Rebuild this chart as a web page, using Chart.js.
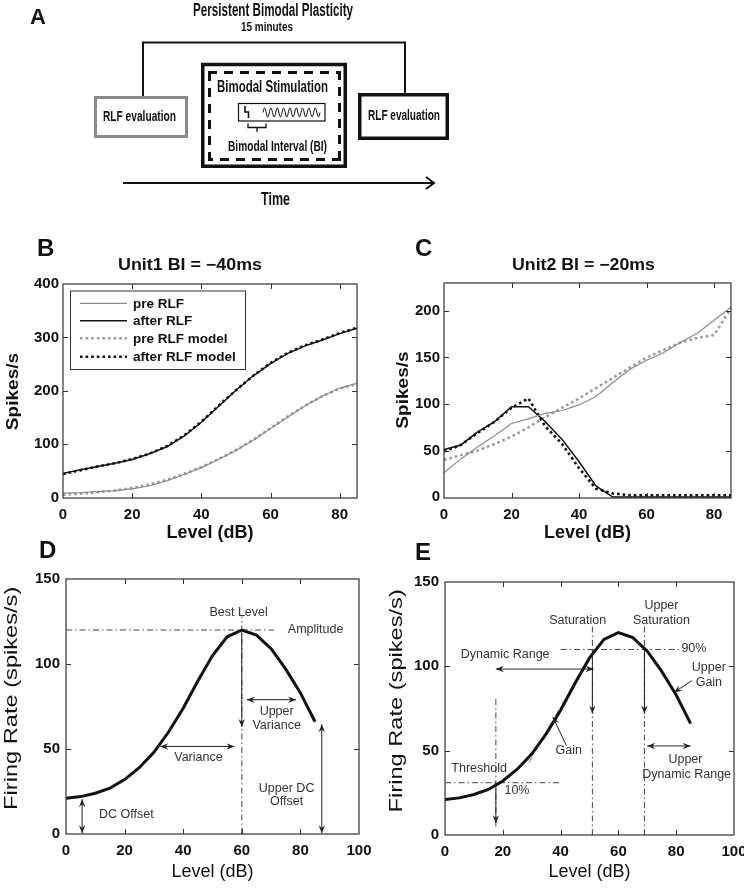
<!DOCTYPE html>
<html>
<head>
<meta charset="utf-8">
<script src="https://cdn.jsdelivr.net/npm/chart.js@4.4.1/dist/chart.umd.min.js"></script>
<style>
  body { margin: 0; background: #ffffff; }
  #page { position: relative; width: 744px; height: 888px; overflow: hidden; font-family: "Liberation Sans", Arial, sans-serif; }
  canvas { position: absolute; }
  svg { position: absolute; left: 0; top: 0; }
  svg text { font-family: "Liberation Sans", Arial, sans-serif; fill: #111; }
</style>
</head>
<body>
<div id="page">
  <canvas id="chartB" width="372" height="300" style="left:0px;top:250px"></canvas>
  <canvas id="chartC" width="372" height="300" style="left:372px;top:250px"></canvas>
  <canvas id="chartD" width="372" height="328" style="left:0px;top:560px"></canvas>
  <canvas id="chartE" width="372" height="328" style="left:372px;top:560px"></canvas>

  <svg width="744" height="888">
    <!-- panel A -->
    <text x="30" y="23.5" font-size="22" font-weight="700">A</text>
    <text x="273" y="15.5" text-anchor="middle" font-size="18" font-weight="700" textLength="160" lengthAdjust="spacingAndGlyphs">Persistent Bimodal Plasticity</text>
    <text x="267" y="31" text-anchor="middle" font-size="13" font-weight="700" textLength="52" lengthAdjust="spacingAndGlyphs">15 minutes</text>
    <polyline points="143,96 143,42.5 405,42.5 405,93" fill="none" stroke="#111" stroke-width="2"/>

    <rect x="95.5" y="97.5" width="91" height="39" fill="#fff" stroke="#8a8a8a" stroke-width="3"/>
    <text x="139.5" y="121" text-anchor="middle" font-size="15.5" font-weight="700" textLength="73" lengthAdjust="spacingAndGlyphs">RLF evaluation</text>

    <rect x="202.75" y="64.5" width="142.5" height="101.75" fill="#fff" stroke="#111" stroke-width="3.5"/>
    <g stroke="#111" stroke-width="3" stroke-dasharray="9 7" fill="none">
      <line x1="208" y1="72.5" x2="341" y2="72.5"/>
      <line x1="339.5" y1="71" x2="339.5" y2="161"/>
      <line x1="341" y1="159.5" x2="208" y2="159.5"/>
      <line x1="209.5" y1="161" x2="209.5" y2="71"/>
    </g>
    <text x="272.5" y="92" text-anchor="middle" font-size="17" font-weight="700" textLength="111" lengthAdjust="spacingAndGlyphs">Bimodal Stimulation</text>
    <rect x="238.5" y="103.5" width="86.5" height="17.5" fill="none" stroke="#111" stroke-width="1.2"/>
    <polyline points="245,106 245,112 248.5,112 248.5,118" fill="none" stroke="#111" stroke-width="1.6"/>
    <path id="wave" d="" fill="none" stroke="#111" stroke-width="1"/>
    <path d="M248,123.5 V127.5 H266 V123.5 M257,127.5 V132" fill="none" stroke="#111" stroke-width="1.3"/>
    <text x="277.5" y="150.5" text-anchor="middle" font-size="15" font-weight="700" textLength="99" lengthAdjust="spacingAndGlyphs">Bimodal Interval (BI)</text>

    <rect x="359.75" y="94.75" width="87.5" height="43.5" fill="#fff" stroke="#111" stroke-width="3.5"/>
    <text x="404" y="119.8" text-anchor="middle" font-size="15.5" font-weight="700" textLength="72" lengthAdjust="spacingAndGlyphs">RLF evaluation</text>

    <line x1="123" y1="183" x2="433" y2="183" stroke="#111" stroke-width="2"/>
    <polyline points="426,177 434,183 426,189" fill="none" stroke="#111" stroke-width="2"/>
    <text x="275.5" y="204.5" text-anchor="middle" font-size="18" font-weight="700" textLength="29" lengthAdjust="spacingAndGlyphs">Time</text>

    <!-- panel letters and titles -->
    <text x="37" y="256" font-size="24" font-weight="700">B</text>
    <text x="415" y="256" font-size="24" font-weight="700">C</text>
    <text x="39" y="558" font-size="24" font-weight="700">D</text>
    <text x="415" y="560" font-size="24" font-weight="700">E</text>
    <text x="190" y="270" text-anchor="middle" font-size="16" font-weight="700" textLength="144" lengthAdjust="spacingAndGlyphs">Unit1 BI = −40ms</text>
    <text x="583.5" y="270" text-anchor="middle" font-size="16" font-weight="700" textLength="143" lengthAdjust="spacingAndGlyphs">Unit2 BI = −20ms</text>
  </svg>
</div>

<script>
const FONT = '"Liberation Sans", Arial, sans-serif';

// sound level (dB) of every sample in B, C, D and E
const levels = [0, 5, 10, 15, 20, 25, 30, 35, 40, 45, 50, 55, 60, 65, 70, 75, 80, 85];

// B: Unit1, BI = -40ms (spikes/s)
const unit1Pre = [8, 9, 11, 13, 16, 22, 31, 43, 56, 71, 88, 107, 129, 151, 172, 190, 205, 214];
const unit1After = [45, 52, 58, 64, 71, 82, 95, 115, 141, 171, 201, 228, 251, 270, 284, 295, 307, 317];
const unit1PreModel = [5, 7, 10, 13, 18, 24, 33, 44, 57, 72, 89, 108, 130, 152, 172, 190, 204, 213];
const unit1AfterModel = [44, 51, 58, 64, 72, 82, 96, 116, 142, 172, 201, 228, 252, 271, 285, 296, 308, 318];

// C: Unit2, BI = -20ms (spikes/s)
const unit2Pre = [26, 41, 54, 66, 79, 84, 90, 93, 99, 108, 123, 137, 147, 155, 166, 176, 190, 204];
const unit2After = [51, 56, 70, 81, 97, 97, 81, 62, 38, 12, 0, 0, 0, 0, 0, 0, 0, 0];
const unit2PreModel = [40, 45, 50, 57, 65, 75, 86, 96, 106, 117, 128, 139, 150, 158, 166, 171, 174, 203];
const unit2AfterModel = [49, 56, 69, 81, 96, 106, 76, 57, 31, 9, 4, 2, 2, 2, 2, 2, 2, 2];

// D and E: example model RLF (spikes/s)
const modelRate = [21, 22, 24, 27, 32, 39, 48, 60, 74, 90, 105, 116, 120, 117, 109, 97, 83, 66];

const legendLabels = ["pre RLF", "after RLF", "pre RLF model", "after RLF model"];

const xTicksBC = [0, 20, 40, 60, 80];
const yTicksB = [0, 100, 200, 300, 400];
const yTicksC = [0, 50, 100, 150, 200];
const xTicksDE = [0, 20, 40, 60, 80, 100];
const yTicksDE = [0, 50, 100, 150];

// guide lines in data units: [x1, y1, x2, y2]
const guidesD = [[0, 120, 71, 120], [60, 0, 60, 128]];
const guidesE = [[0, 31, 40, 31], [17.6, 5, 17.6, 82], [40, 110, 81, 110], [51, 0, 51, 125], [69, 0, 69, 125]];
const gainTangentE = [29, 43, 48, 100];

// arrows in data units: [x1, y1, x2, y2, bothEnds]
const arrowsD = [
  [60, 120, 60, 63, false],
  [61.7, 79, 78.5, 79, true],
  [32.2, 51.5, 57.5, 51.5, true],
  [5.5, 0.5, 5.5, 20.5, true],
  [87.3, 0.5, 87.3, 64.5, true],
];
const labelsD = [
  [58.9, 130.2, "Best Level"],
  [85.2, 120.4, "Amplitude"],
  [71.9, 72, "Upper"],
  [71.9, 63.6, "Variance"],
  [45.2, 45.2, "Variance"],
  [20.6, 11.4, "DC Offset"],
  [75.3, 27, "Upper DC"],
  [75.3, 19.2, "Offset"],
];
const arrowsE = [
  [17.6, 31, 17.6, 7, false],
  [51, 110, 51, 72, false],
  [69, 110, 69, 72, false],
  [17.6, 98.4, 51.4, 98.4, true],
  [70, 52.8, 85, 52.8, true],
  [42, 53, 37.3, 70, false],
  [85.5, 91.6, 79.2, 84.5, false],
];
const labelsE = [
  [45.9, 127, "Saturation"],
  [74.9, 136, "Upper"],
  [74.9, 127, "Saturation"],
  [81.8, 110.6, "90%", "left"],
  [20.8, 106.9, "Dynamic Range"],
  [91.3, 99, "Upper"],
  [91.3, 90.4, "Gain"],
  [42.8, 49.9, "Gain"],
  [11.8, 39.2, "Threshold"],
  [24.9, 26.1, "10%"],
  [83.2, 44.5, "Upper"],
  [83.6, 35.6, "Dynamic Range"],
];

// stimulus waveform in panel A
(function drawWave() {
  let d = "";
  for (let i = 0; i <= 114; i++) {
    const px = 263 + i * 0.5;
    const py = 112.5 - 4.5 * Math.sin((i / 114) * Math.PI * 2 * 9);
    d += (i ? "L" : "M") + px.toFixed(1) + "," + py.toFixed(1);
  }
  document.getElementById("wave").setAttribute("d", d);
})();

const styles = {
  pre: { borderColor: "#8c8c8c", borderWidth: 1.2 },
  after: { borderColor: "#111111", borderWidth: 1.5 },
  preModel: { borderColor: "#9a9a9a", borderWidth: 2.6, borderDash: [2.6, 3] },
  afterModel: { borderColor: "#111111", borderWidth: 2.6, borderDash: [2.6, 3] },
  curve: { borderColor: "#111111", borderWidth: 3 },
  guide: { borderColor: "#444444", borderWidth: 1, borderDash: [6, 3, 1.5, 3] },
  tangent: { borderColor: "#9a9a9a", borderWidth: 1.2, borderDash: [6, 3, 1.5, 3] },
};

function series(xs, ys) {
  return xs.map((x, i) => ({ x, y: ys[i] }));
}

function segment(line) {
  return [{ x: line[0], y: line[1] }, { x: line[2], y: line[3] }];
}

function lineSet(label, data, style) {
  return Object.assign({ label, data, pointRadius: 0, tension: 0, fill: false, borderCapStyle: "butt" }, style);
}

function drawHead(ctx, fx, fy, tx, ty) {
  const ang = Math.atan2(ty - fy, tx - fx);
  const len = 8;
  const half = 3.2;
  const c = Math.cos(ang);
  const s = Math.sin(ang);
  ctx.beginPath();
  ctx.moveTo(tx, ty);
  ctx.lineTo(tx - len * c + half * s, ty - len * s - half * c);
  ctx.lineTo(tx - len * 0.65 * c, ty - len * 0.65 * s);
  ctx.lineTo(tx - len * c - half * s, ty - len * s + half * c);
  ctx.closePath();
  ctx.fill();
}

const framePlugin = {
  id: "frame",
  afterDraw(chart) {
    const { ctx, chartArea: a, scales } = chart;
    const x = scales.x;
    const y = scales.y;
    ctx.save();
    ctx.strokeStyle = "#333333";
    ctx.lineWidth = 1;
    ctx.beginPath();
    x.ticks.forEach((t) => {
      const px = Math.round(x.getPixelForValue(t.value)) + 0.5;
      if (px < a.left + 2 || px > a.right - 2) return;
      ctx.moveTo(px, a.bottom);
      ctx.lineTo(px, a.bottom - 5);
      ctx.moveTo(px, a.top);
      ctx.lineTo(px, a.top + 5);
    });
    y.ticks.forEach((t) => {
      const py = Math.round(y.getPixelForValue(t.value)) + 0.5;
      if (py < a.top + 2 || py > a.bottom - 2) return;
      ctx.moveTo(a.left, py);
      ctx.lineTo(a.left + 5, py);
      ctx.moveTo(a.right, py);
      ctx.lineTo(a.right - 5, py);
    });
    ctx.stroke();
    ctx.lineWidth = 1.2;
    ctx.strokeRect(a.left, a.top, a.right - a.left, a.bottom - a.top);
    ctx.restore();
  },
};

function sideTitle(text, font, cx, cy, stretch) {
  return {
    id: "sideTitle",
    afterDraw(chart) {
      const { ctx } = chart;
      ctx.save();
      ctx.translate(cx, cy);
      ctx.rotate(-Math.PI / 2);
      ctx.scale(stretch, 1);
      ctx.font = font;
      ctx.fillStyle = "#111111";
      ctx.textAlign = "center";
      ctx.textBaseline = "middle";
      ctx.fillText(text, 0, 0);
      ctx.restore();
    },
  };
}

function notesPlugin(arrows, labels) {
  return {
    id: "notes",
    afterDatasetsDraw(chart) {
      const { ctx, scales } = chart;
      const x = scales.x;
      const y = scales.y;
      ctx.save();
      ctx.strokeStyle = "#222222";
      ctx.fillStyle = "#222222";
      ctx.lineWidth = 1;
      arrows.forEach((a) => {
        const x1 = x.getPixelForValue(a[0]);
        const y1 = y.getPixelForValue(a[1]);
        const x2 = x.getPixelForValue(a[2]);
        const y2 = y.getPixelForValue(a[3]);
        ctx.beginPath();
        ctx.moveTo(x1, y1);
        ctx.lineTo(x2, y2);
        ctx.stroke();
        drawHead(ctx, x1, y1, x2, y2);
        if (a[4]) drawHead(ctx, x2, y2, x1, y1);
      });
      ctx.fillStyle = "#333333";
      ctx.font = `12.5px ${FONT}`;
      ctx.textBaseline = "middle";
      labels.forEach((t) => {
        ctx.textAlign = t[3] || "center";
        ctx.fillText(t[2], x.getPixelForValue(t[0]), y.getPixelForValue(t[1]));
      });
      ctx.restore();
    },
  };
}

const legendPlugin = {
  id: "boxLegend",
  afterDatasetsDraw(chart) {
    const { ctx, chartArea: a } = chart;
    const left = a.left + 7;
    const top = a.top + 6.5;
    ctx.save();
    ctx.fillStyle = "#ffffff";
    ctx.fillRect(left, top, 175, 78.5);
    ctx.strokeStyle = "#333333";
    ctx.lineWidth = 1;
    ctx.strokeRect(left + 0.5, top + 0.5, 175, 78.5);
    const rows = [19.3, 36.7, 54.3, 72.7];
    ctx.font = `bold 13.5px ${FONT}`;
    ctx.textBaseline = "middle";
    ctx.textAlign = "left";
    legendLabels.forEach((label, i) => {
      const ds = chart.data.datasets[i];
      const ry = a.top + rows[i];
      ctx.strokeStyle = ds.borderColor;
      ctx.lineWidth = ds.borderWidth;
      ctx.setLineDash(ds.borderDash || []);
      ctx.beginPath();
      ctx.moveTo(a.left + 17, ry);
      ctx.lineTo(a.left + 64, ry);
      ctx.stroke();
      ctx.setLineDash([]);
      ctx.fillStyle = "#111111";
      ctx.fillText(label, a.left + 70, ry + 0.5);
    });
    ctx.restore();
  },
};

function noPadding(scale) {
  scale.paddingLeft = 0;
  scale.paddingRight = 0;
  scale.paddingTop = 0;
  scale.paddingBottom = 0;
}

function buildChart(id, cfg) {
  const tickFont = { family: FONT, size: 15, weight: "bold" };
  return new Chart(document.getElementById(id), {
    type: "line",
    data: { datasets: cfg.datasets },
    options: {
      responsive: false,
      animation: false,
      events: [],
      layout: { padding: { top: cfg.padTop, right: cfg.padRight, left: 0, bottom: 0 } },
      plugins: {
        legend: { display: false },
        tooltip: { enabled: false },
      },
      scales: {
        x: {
          type: "linear",
          min: cfg.xMin,
          max: cfg.xMax,
          afterBuildTicks: (scale) => {
            scale.ticks = cfg.xTicks.map((v) => ({ value: v }));
          },
          afterFit: (scale) => {
            scale.height = cfg.xHeight;
            noPadding(scale);
          },
          grid: { display: false, drawTicks: false },
          border: { display: false },
          ticks: { font: tickFont, color: "#111111", padding: cfg.xTickPad, maxRotation: 0, autoSkip: false },
          title: {
            display: true,
            text: "Level (dB)",
            color: "#111111",
            font: cfg.xTitleFont,
            padding: { top: 0, bottom: cfg.xTitlePad },
          },
        },
        y: {
          type: "linear",
          min: cfg.yMin,
          max: cfg.yMax,
          afterBuildTicks: (scale) => {
            scale.ticks = cfg.yTicks.map((v) => ({ value: v }));
          },
          afterFit: (scale) => {
            scale.width = cfg.yWidth;
            noPadding(scale);
          },
          grid: { display: false, drawTicks: false },
          border: { display: false },
          ticks: { font: tickFont, color: "#111111", padding: cfg.yTickPad, autoSkip: false },
        },
      },
    },
    plugins: cfg.plugins,
  });
}

buildChart("chartB", {
  datasets: [
    lineSet(legendLabels[0], series(levels, unit1Pre), styles.pre),
    lineSet(legendLabels[1], series(levels, unit1After), styles.after),
    lineSet(legendLabels[2], series(levels, unit1PreModel), styles.preModel),
    lineSet(legendLabels[3], series(levels, unit1AfterModel), styles.afterModel),
  ],
  xMin: 0, xMax: 85, yMin: -1, yMax: 400,
  xTicks: xTicksBC, yTicks: yTicksB,
  padTop: 34, padRight: 15, yWidth: 63, xHeight: 52,
  xTickPad: 8, yTickPad: 4,
  xTitleFont: { family: FONT, size: 18, weight: "bold" }, xTitlePad: 6,
  plugins: [legendPlugin, framePlugin, sideTitle("Spikes/s", `bold 17px ${FONT}`, 13, 141.5, 1.12)],
});

buildChart("chartC", {
  datasets: [
    lineSet(legendLabels[0], series(levels, unit2Pre), styles.pre),
    lineSet(legendLabels[1], series(levels, unit2After), styles.after),
    lineSet(legendLabels[2], series(levels, unit2PreModel), styles.preModel),
    lineSet(legendLabels[3], series(levels, unit2AfterModel), styles.afterModel),
  ],
  xMin: 0, xMax: 85, yMin: -1, yMax: 230,
  xTicks: xTicksBC, yTicks: yTicksC,
  padTop: 33, padRight: 13, yWidth: 72, xHeight: 52,
  xTickPad: 8, yTickPad: 4,
  xTitleFont: { family: FONT, size: 18, weight: "bold" }, xTitlePad: 6,
  plugins: [framePlugin, sideTitle("Spikes/s", `bold 17px ${FONT}`, 31.7, 140, 1.12)],
});

buildChart("chartD", {
  datasets: [
    lineSet("model", series(levels, modelRate), styles.curve),
    ...guidesD.map((g, i) => lineSet("guide" + i, segment(g), styles.guide)),
  ],
  xMin: 0, xMax: 100, yMin: 0, yMax: 150,
  xTicks: xTicksDE, yTicks: yTicksDE,
  padTop: 19, padRight: 13, yWidth: 66, xHeight: 54,
  xTickPad: 8, yTickPad: 6,
  xTitleFont: { family: FONT, size: 18, weight: "normal" }, xTitlePad: 5,
  plugins: [notesPlugin(arrowsD, labelsD), framePlugin, sideTitle("Firing Rate (spikes/s)", `17.5px ${FONT}`, 12.3, 138.3, 1.35)],
});

buildChart("chartE", {
  datasets: [
    lineSet("model", series(levels, modelRate), styles.curve),
    lineSet("gain", segment(gainTangentE), styles.tangent),
    ...guidesE.map((g, i) => lineSet("guide" + i, segment(g), styles.guide)),
  ],
  xMin: 0, xMax: 100, yMin: 0, yMax: 150,
  xTicks: xTicksDE, yTicks: yTicksDE,
  padTop: 22, padRight: 10, yWidth: 73, xHeight: 53,
  xTickPad: 8, yTickPad: 6,
  xTitleFont: { family: FONT, size: 18, weight: "normal" }, xTitlePad: 5,
  plugins: [notesPlugin(arrowsE, labelsE), framePlugin, sideTitle("Firing Rate (spikes/s)", `17.5px ${FONT}`, 25, 140.8, 1.35)],
});
</script>
</body>
</html>
